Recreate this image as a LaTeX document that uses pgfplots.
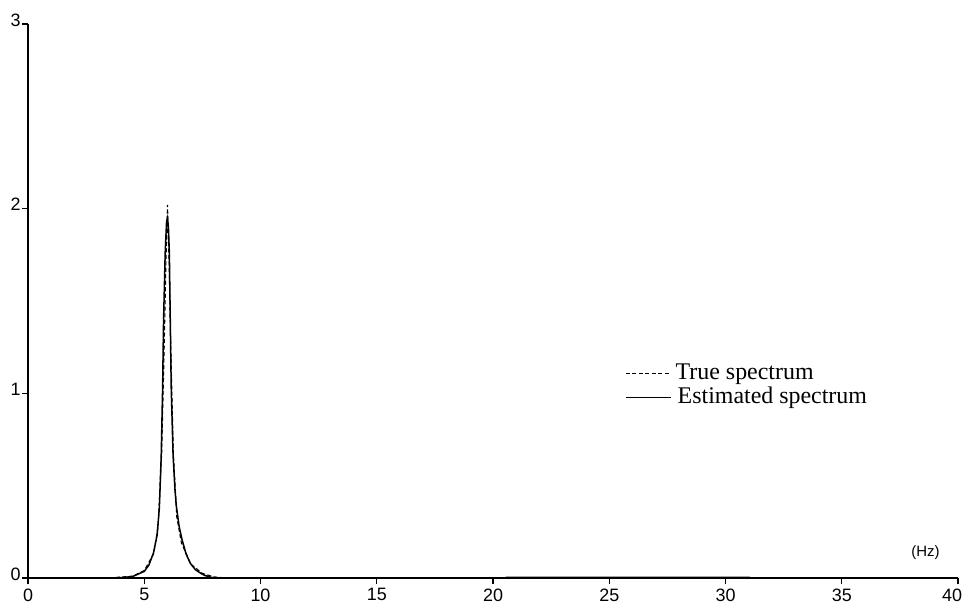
\documentclass[border=0pt]{standalone}
\usepackage{pgfplots}
\pgfplotsset{compat=1.18}
\usepackage{fontspec}
\setmainfont{Liberation Serif}
\setsansfont{Liberation Sans}

% Estimated and true power spectra (frequency in Hz, power)
\begin{document}
\begin{tikzpicture}
\useasboundingbox (0,0) rectangle (965bp,612bp);
\begin{axis}[
  at={(28bp,34bp)}, anchor=south west,
  scale only axis, width=930bp, height=554bp,
  xmin=0, xmax=40, ymin=0, ymax=3,
  axis lines=left, axis line style={-, line width=1.3bp},
  xtick={0,5,...,40}, ytick={0,1,2,3},
  tick align=outside, major tick length=6bp,
  tick style={line width=1.1bp, black},
  /pgf/number format/assume math mode=true,
  ticklabel style={font=\sffamily\fontsize{18}{18}\selectfont},
  xticklabel style={yshift=-1bp},
  xticklabel={\ifnum\ticknum=8 \hspace*{-12bp}\fi\pgfmathprintnumber{\tick}},
  yticklabel style={yshift=4bp, xshift=2bp},
  clip=false,
  legend style={draw=none, fill=none, at={(axis cs:25.55,1.18)}, anchor=north west,
    font=\fontsize{24}{24}\selectfont, row sep=2bp,
    nodes={inner sep=0bp, text height=17bp, text depth=5bp}},
  legend cell align=left,
  legend image code/.code={\draw[#1] (0bp,0bp) -- (45bp,0bp);},
]
% true spectrum
\addplot[black, line width=1.1bp, dash pattern=on 4bp off 2.5bp] coordinates {
  (3.5,0) (4.5,0.010) (5.0,0.040) (5.4,0.130) (5.6,0.280) (5.75,0.680)
  (5.85,1.200) (5.93,1.700) (6.0,2.020) (6.07,1.700) (6.15,1.200)
  (6.25,0.680) (6.4,0.330) (6.6,0.190) (7.0,0.075) (7.5,0.025) (8.0,0.006) (8.5,0)
};
\addlegendentry{\,True spectrum}
% estimated spectrum
\addplot[black, line width=1.5bp] coordinates {
  (0,0) (3.5,0) (4.0,0.002) (4.5,0.008) (5.0,0.036) (5.2,0.070) (5.4,0.137)
  (5.55,0.230) (5.65,0.380) (5.73,0.665) (5.79,1.030) (5.83,1.390) (5.90,1.760)
  (5.96,1.930) (6.0,1.950) (6.04,1.900) (6.08,1.760) (6.12,1.390) (6.16,1.030)
  (6.24,0.665) (6.32,0.480) (6.38,0.390) (6.5,0.280) (6.62,0.210) (6.8,0.130)
  (6.98,0.080) (7.2,0.045) (7.41,0.027) (7.6,0.014) (7.84,0.005) (8.0,0)
  (20.5,0) (20.6,0.004) (31.0,0.004) (31.1,0) (40,0)
};
\addlegendentry{\ Estimated spectrum}
\node[font=\sffamily\fontsize{15}{15}\selectfont] at (axis cs:38.6,0.14) {(Hz)};
\end{axis}
\end{tikzpicture}
\end{document}
